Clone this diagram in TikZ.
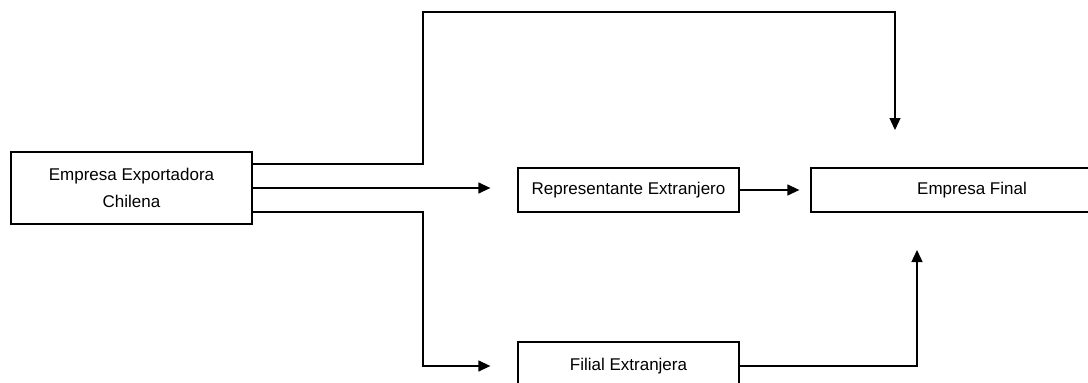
\documentclass[tikz,border=0pt]{standalone}
\usepackage{fontspec}
\setmainfont{Liberation Sans}
\usetikzlibrary{arrows.meta}
\begin{document}
\begin{tikzpicture}[x=1pt, y=-1pt,
    box/.style={draw, line width=1.3pt, inner sep=0pt, align=center, font=\fontsize{17}{27}\selectfont},
    link/.style={line width=1.3pt, -{Triangle[length=12pt, width=11pt]}}]
    \clip (0, 0) rectangle (1088, 383);
    \fill[white] (0, 0) rectangle (1088, 383);
    \node[box, minimum width=241pt, minimum height=72pt] (chile) at (131.5, 188) {Empresa Exportadora\\Chilena};
    \node[box, minimum width=221pt, minimum height=44pt] (rep) at (628.5, 190) {Representante Extranjero};
    \node[box, minimum width=322pt, minimum height=44pt] (fin) at (972, 190) {Empresa Final};
    \node[box, minimum width=221pt, minimum height=48pt] (fil) at (628.5, 366) {Filial Extranjera};
    \coordinate (top) at (895, 130);
    \coordinate (up) at (917, 250);
    \draw[link] ([yshift=24pt]chile.east) -- (423, 164) -- (423, 12) -- (895, 12) -- (top);
    \draw[link, shorten >=27pt] (chile.east) -- (chile.east -| rep.west);
    \draw[link, shorten >=11pt] (rep) -- (fin);
    \draw[link, shorten >=27pt] ([yshift=-24pt]chile.east) -- (423, 212) -- (423, 366) -- (fil.west);
    \draw[link] (fil.east) -- (917, 366) -- (up);
  \end{tikzpicture}
\end{document}
